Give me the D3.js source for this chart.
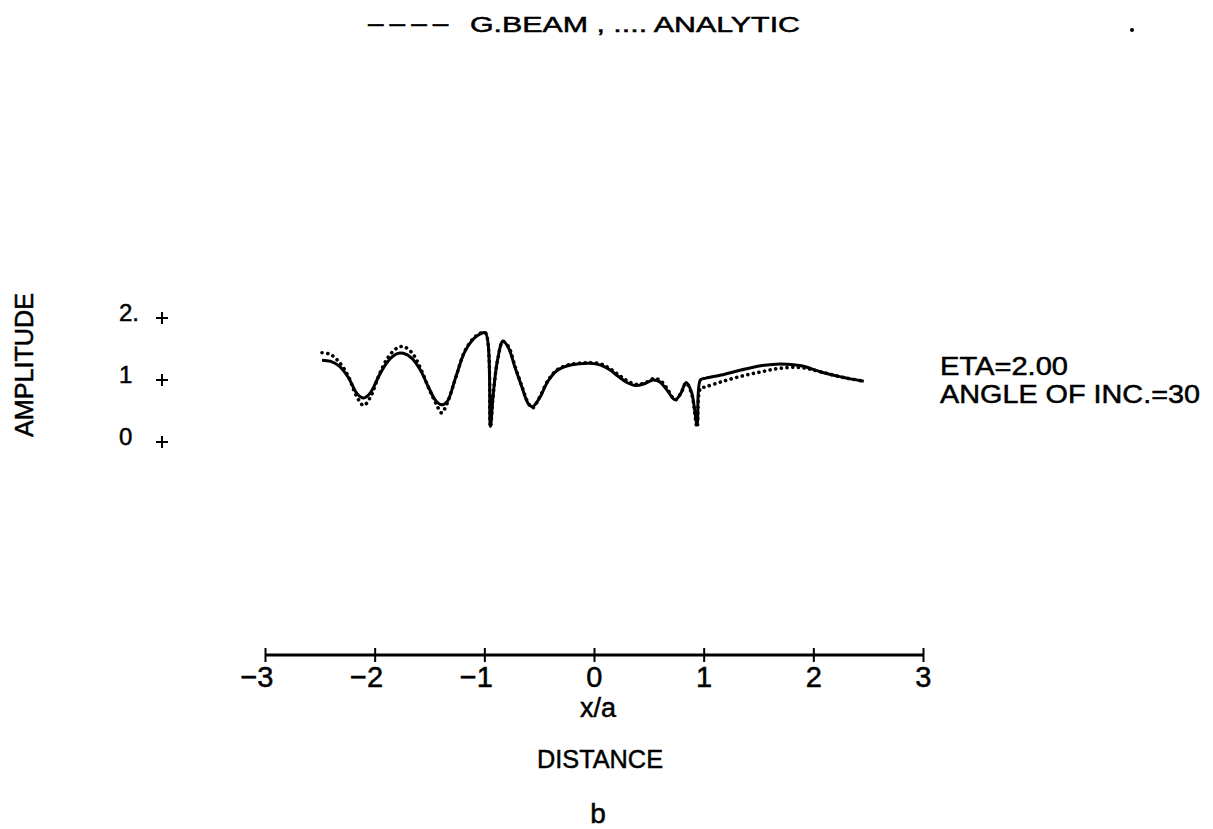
<!DOCTYPE html>
<html>
<head>
<meta charset="utf-8">
<script src="https://d3js.org/d3.v7.min.js"></script>
<style>
  body { margin: 0; background: #fff; }
  text { font-family: "Liberation Sans", Arial, sans-serif; fill: #000; stroke: #000; stroke-width: 0.5px; }
</style>
</head>
<body>
<svg width="1213" height="829"></svg>

<script>
  // values (x/a and amplitude)
  const xs = [-2.48, -2.40, -2.32, -2.24, -2.16, -2.10, -2.04, -1.96, -1.88, -1.80,
              -1.74, -1.66, -1.58, -1.50, -1.44, -1.39, -1.34, -1.26, -1.18, -1.10,
              -1.04, -0.99, -0.945, -0.92, -0.88, -0.83, -0.78, -0.72, -0.66, -0.60,
              -0.56, -0.50, -0.42, -0.34, -0.24, -0.14, -0.04, 0.06, 0.14, 0.22,
              0.30, 0.38, 0.46, 0.54, 0.60, 0.66, 0.74, 0.79, 0.84, 0.89,
              0.94, 0.97, 1.02, 1.16, 1.34, 1.52, 1.70, 1.89, 2.07, 2.25, 2.46];

  const gBeam = [1.32, 1.30, 1.22, 1.04, 0.78, 0.71, 0.79, 1.07, 1.30, 1.42,
                 1.43, 1.35, 1.15, 0.85, 0.66, 0.60, 0.65, 1.05, 1.45, 1.66,
                 1.74, 1.76, 0.25, 0.75, 1.32, 1.63, 1.52, 1.20, 0.90, 0.62,
                 0.57, 0.70, 0.98, 1.15, 1.23, 1.26, 1.27, 1.24, 1.17, 1.06,
                 0.96, 0.91, 0.94, 1.00, 0.97, 0.85, 0.68, 0.78, 0.96, 0.80,
                 0.29, 1.00, 1.03, 1.08, 1.16, 1.23, 1.26, 1.23, 1.13, 1.05, 0.98];

  const analytic = [1.44, 1.41, 1.28, 1.06, 0.72, 0.59, 0.72, 1.08, 1.36, 1.51,
                    1.54, 1.44, 1.18, 0.84, 0.62, 0.47, 0.62, 1.04, 1.46, 1.67,
                    1.75, 1.76, 0.24, 0.74, 1.31, 1.62, 1.54, 1.22, 0.91, 0.63,
                    0.55, 0.71, 0.99, 1.16, 1.24, 1.27, 1.28, 1.26, 1.19, 1.09,
                    0.99, 0.93, 0.95, 1.02, 1.00, 0.88, 0.68, 0.78, 0.95, 0.78,
                    0.24, 0.86, 0.89, 0.97, 1.06, 1.13, 1.19, 1.20, 1.13, 1.05, 0.98];

  const xTicks = [-3, -2, -1, 0, 1, 2, 3];
  const yTicks = [0, 1, 2];
  const yTickLabels = ['0', '1', '2.'];

  const svg = d3.select('svg')
  const width = +svg.attr('width')
  const height = +svg.attr('height')

  svg.append('rect').attr('width', width).attr('height', height).attr('fill', '#fff');

  const xScale = d3.scaleLinear().domain([-3, 3]).range([265, 923]);
  const yScale = d3.scaleLinear().domain([0, 2]).range([442, 318]);

  const axisY = 655;

  // x axis, ticks cross the line
  const xAxis = d3.axisBottom(xScale).tickValues(xTicks).tickSize(7).tickPadding(0)
        .tickFormat(d => d < 0 ? '\u2212' + Math.abs(d) : '' + d);
  const gx = svg.append('g').attr('transform', `translate(0,${axisY})`).call(xAxis);
  gx.select('.domain').attr('stroke', '#000').attr('stroke-width', 3).attr('d', `M${xScale(-3)},0H${xScale(3)}`);
  gx.selectAll('.tick line').attr('y1', -7).attr('y2', 7).attr('stroke', '#000').attr('stroke-width', 2);
  gx.selectAll('.tick text')
    .attr('y', 32).attr('dy', 0)
    .attr('text-anchor', 'end')
    .attr('dx', 8)
    .style('font-size', '29px')
    .style('font-family', '"Liberation Sans", Arial, sans-serif');

  // y ticks drawn as plus marks
  const gy = svg.append('g');
  yTicks.forEach((t, i) => {
    const py = yScale(t);
    gy.append('path')
      .attr('d', `M156,${py}H168M162,${py - 6}V${py + 6}`)
      .attr('stroke', '#000').attr('stroke-width', 2);
    gy.append('text')
      .attr('x', 119).attr('y', py + 3)
      .style('font-size', '24px')
      .text(yTickLabels[i]);
  });

  const line = d3.line()
    .x((d, i) => xScale(xs[i]))
    .y(d => yScale(d))
    .curve(d3.curveCatmullRom.alpha(0.5));

  svg.append('path').datum(analytic)
    .attr('d', line)
    .attr('fill', 'none').attr('stroke', '#000')
    .attr('stroke-width', 3.6)
    .attr('stroke-linecap', 'round')
    .attr('stroke-dasharray', '0.1,5.6');

  svg.append('path').datum(gBeam)
    .attr('d', line)
    .attr('fill', 'none').attr('stroke', '#000')
    .attr('stroke-width', 3)
    .attr('stroke-linejoin', 'round');

  // legend line on top
  const title = svg.append('text').attr('x', 368).attr('y', 32).style('font-size', '22px');
  title.append('tspan')
    .style('font-size', '28px')
    .attr('letter-spacing', 6)
    .text('\u2013\u2013\u2013\u2013');
  title.append('tspan')
    .attr('x', 470)
    .attr('textLength', 330).attr('lengthAdjust', 'spacingAndGlyphs')
    .text('G.BEAM , .... ANALYTIC');

  svg.append('circle').attr('cx', 1132).attr('cy', 30).attr('r', 2).attr('fill', '#000');

  svg.append('text')
    .attr('transform', 'translate(33,365) rotate(-90)')
    .attr('text-anchor', 'middle')
    .attr('textLength', 144).attr('lengthAdjust', 'spacingAndGlyphs')
    .style('font-size', '25px')
    .text('AMPLITUDE');

  svg.append('text').attr('x', 940).attr('y', 375)
    .attr('textLength', 128).attr('lengthAdjust', 'spacingAndGlyphs')
    .style('font-size', '25px')
    .text('ETA=2.00');
  svg.append('text').attr('x', 940).attr('y', 403)
    .attr('textLength', 260).attr('lengthAdjust', 'spacingAndGlyphs')
    .style('font-size', '25px')
    .text('ANGLE OF INC.=30');

  svg.append('text').attr('x', 598).attr('y', 717)
    .attr('text-anchor', 'middle')
    .style('font-size', '27px')
    .text('x/a');

  svg.append('text').attr('x', 600).attr('y', 768)
    .attr('text-anchor', 'middle')
    .attr('textLength', 126).attr('lengthAdjust', 'spacingAndGlyphs')
    .style('font-size', '26px')
    .text('DISTANCE');

  svg.append('text').attr('x', 598).attr('y', 823)
    .attr('text-anchor', 'middle')
    .style('font-size', '28px')
    .text('b');
</script>
</body>
</html>
